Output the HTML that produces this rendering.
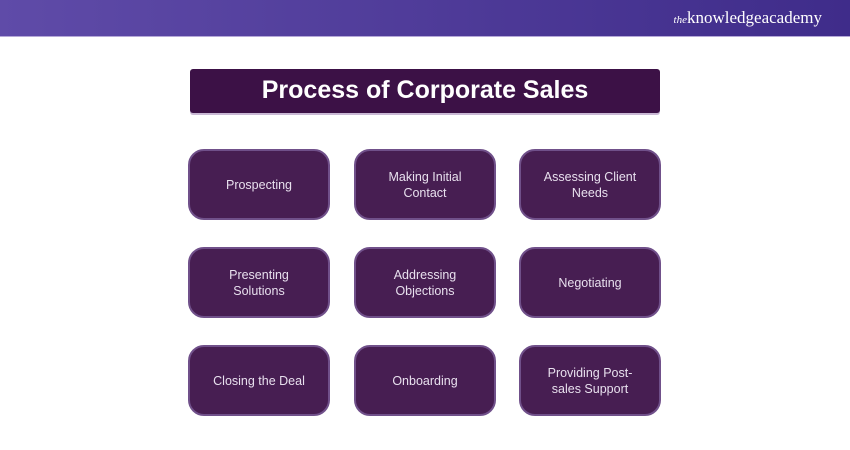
<!DOCTYPE html><html><head><style>
body{margin:0;width:850px;height:450px;background:#fff;position:relative;overflow:hidden;font-family:"Liberation Sans",sans-serif}
.hd{position:absolute;left:0;top:0;width:850px;height:36px;background:linear-gradient(90deg,#5f4ba8,#3f2c8a);border-bottom:1px solid #b5a8d8}
.logo{position:absolute;right:28px;top:8px;color:#fff;font-family:"Liberation Serif",serif;font-size:17px}
.logo i{font-size:11px}
.t{position:absolute;left:190px;top:69px;width:470px;height:44px;background:#3c1146;border-radius:3px;box-shadow:0 2px 0 #c9b8d4;color:#fff;font-weight:bold;font-size:25px;text-align:center;line-height:43px}
.b{position:absolute;width:138px;height:67px;background:#471e52;border:2px solid #70508a;border-radius:16px;color:#e8e0ee;font-size:12.5px;display:flex;align-items:center;justify-content:center;text-align:center;line-height:16px}
</style></head><body>
<div class="hd"><div class="logo"><i>the</i>knowledgeacademy</div></div>
<div class="t">Process of Corporate Sales</div>
<div class="b" style="left:188px;top:149px">Prospecting</div>
<div class="b" style="left:354px;top:149px">Making Initial<br>Contact</div>
<div class="b" style="left:519px;top:149px">Assessing Client<br>Needs</div>
<div class="b" style="left:188px;top:247px">Presenting<br>Solutions</div>
<div class="b" style="left:354px;top:247px">Addressing<br>Objections</div>
<div class="b" style="left:519px;top:247px">Negotiating</div>
<div class="b" style="left:188px;top:345px">Closing the Deal</div>
<div class="b" style="left:354px;top:345px">Onboarding</div>
<div class="b" style="left:519px;top:345px">Providing Post-<br>sales Support</div>
</body></html>
